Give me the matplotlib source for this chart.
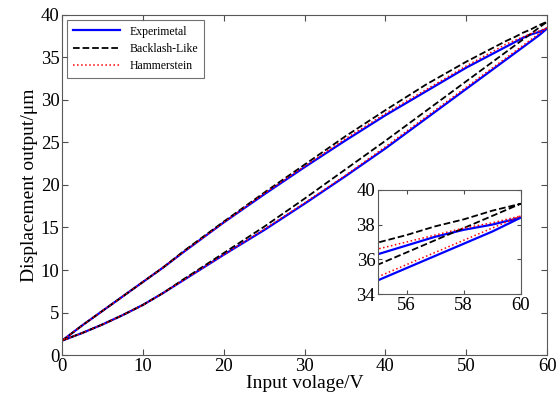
import numpy as np
import matplotlib
matplotlib.use("Agg")
import matplotlib.pyplot as plt

plt.rcParams['font.family'] = ['Liberation Serif', 'DejaVu Serif']

# input voltage, ascending branch (the descending branch uses the same points reversed)
volt = [0, 2.5, 5, 7.5, 10, 12.5, 15, 20, 25, 30, 35, 40, 45, 50, 55, 56, 57, 58, 59, 60]

# Experimetal
exp_up = [1.7, 2.6, 3.6, 4.7, 5.9, 7.3, 8.8, 11.8, 14.7, 17.8, 21.0, 24.3, 27.8, 31.3,
          34.8, 35.5, 36.2, 36.9, 37.6, 38.4]
exp_down = [1.7, 3.5, 5.2, 6.9, 8.6, 10.3, 12.1, 15.6, 18.9, 22.1, 25.2, 28.2, 31.0, 33.8,
            36.3, 36.8, 37.3, 37.7, 38.0, 38.4]

# Backlash-Like
bl_up = [1.7, 2.6, 3.6, 4.7, 5.9, 7.3, 8.9, 12.0, 15.1, 18.4, 21.8, 25.2, 28.7, 32.2,
         35.7, 36.4, 37.1, 37.8, 38.5, 39.2]
bl_down = [1.7, 3.5, 5.2, 6.9, 8.6, 10.3, 12.2, 15.7, 19.1, 22.4, 25.7, 28.8, 31.8, 34.5,
           36.97, 37.4, 37.9, 38.3, 38.8, 39.2]

# Hammerstein
ham_up = [1.7, 2.6, 3.6, 4.7, 5.9, 7.3, 8.8, 11.8, 14.8, 17.9, 21.1, 24.5, 28.0, 31.5,
          35.0, 35.7, 36.4, 37.1, 37.8, 38.5]
ham_down = [1.7, 3.5, 5.2, 6.9, 8.6, 10.3, 12.1, 15.6, 19.0, 22.2, 25.4, 28.4, 31.2, 34.0,
            36.6, 37.0, 37.4, 37.8, 38.1, 38.5]


def loop(up, down):
    x = list(volt) + list(volt[::-1])
    y = list(up) + list(down[::-1])
    return x, y


series = [
    ("Experimetal", exp_up, exp_down, dict(color="blue", ls="-", lw=1.6)),
    ("Backlash-Like", bl_up, bl_down, dict(color="black", ls="--", lw=1.3)),
    ("Hammerstein", ham_up, ham_down, dict(color="red", ls=":", lw=1.1)),
]

fig = plt.figure(figsize=(5.6, 4.03), dpi=100)
ax = fig.add_axes([0.111, 0.119, 0.866, 0.844])

for name, up, down, st in series:
    x, y = loop(up, down)
    ax.plot(x, y, label=name, **st)

ax.set_xlim(0, 60)
ax.set_ylim(0, 40)
ax.set_xticks(np.arange(0, 61, 10))
ax.set_yticks(np.arange(0, 41, 5))
ax.tick_params(direction="in", top=True, right=True, labelsize=13.5, length=4,
               color="0.3", pad=2)
for s in ax.spines.values():
    s.set_color("0.35")
ax.set_xlabel("Input volage/V", fontsize=14, labelpad=0)
ax.set_ylabel("Displacement output/μm", fontsize=14, labelpad=2)

leg = ax.legend(loc="upper left", fontsize=8.5, frameon=True, fancybox=False,
                edgecolor="0.3", handlelength=4, borderaxespad=0.4,
                borderpad=0.5, labelspacing=0.45)
leg.get_frame().set_linewidth(0.8)

# inset zoom on the loop tip
ins = fig.add_axes([0.675, 0.270, 0.255, 0.259])
for name, up, down, st in series:
    x, y = loop(up, down)
    ins.plot(x, y, **st)
ins.set_xlim(55, 60)
ins.set_ylim(34, 40)
ins.set_xticks([56, 58, 60])
ins.set_yticks([34, 36, 38, 40])
ins.tick_params(direction="in", top=True, right=True, labelsize=13.5, length=3,
                color="0.3", pad=2)
for s in ins.spines.values():
    s.set_color("0.35")

fig.savefig("out.png", dpi=100)
